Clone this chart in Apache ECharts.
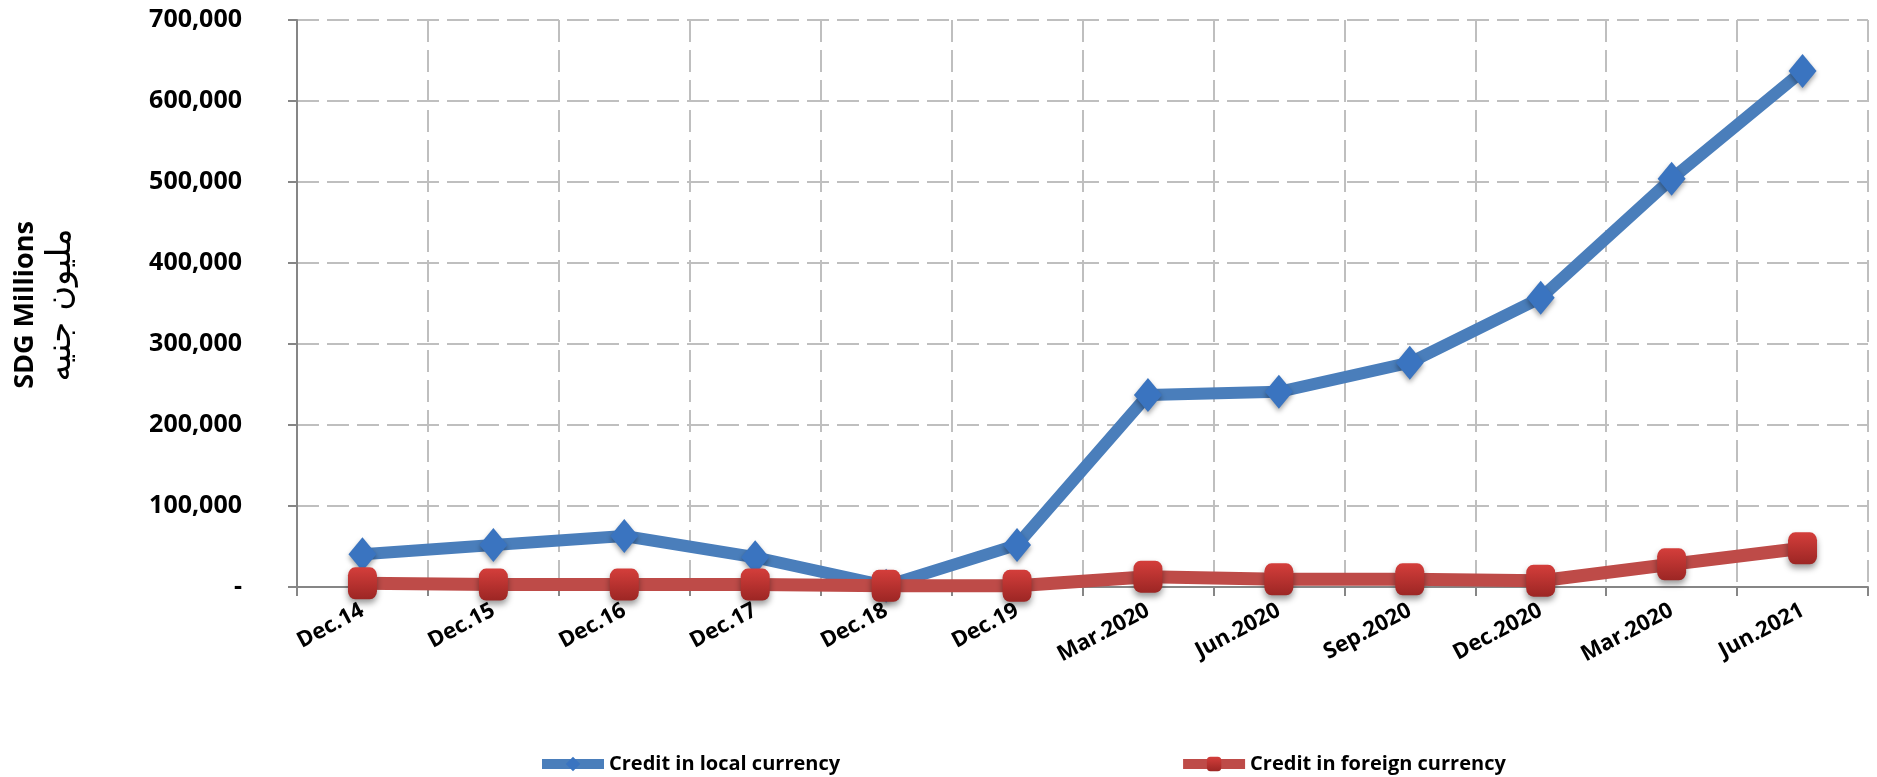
<!DOCTYPE html>
<html>
<head>
<meta charset="utf-8">
<script src="https://cdn.jsdelivr.net/npm/echarts@6/dist/echarts.min.js"></script>
<style>
  html, body { margin: 0; padding: 0; background: #fff; }
  #main { width: 1877px; height: 777px; }
</style>
</head>
<body>
<div id="main"></div>
<script>
// categories (the second Mar.2020 is as printed in the source)
var periods = ['Dec.14', 'Dec.15', 'Dec.16', 'Dec.17', 'Dec.18', 'Dec.19',
    'Mar.2020', 'Jun.2020', 'Sep.2020', 'Dec.2020', 'Mar.2020', 'Jun.2021'];
// SDG millions
var localCredit = [40400, 51900, 63000, 36700, 1500, 52000, 237000, 241000, 277000, 357000, 504000, 637000];
var foreignCredit = [4500, 3000, 3000, 3000, 1500, 1500, 12700, 9500, 9500, 7800, 28000, 47800];
var seriesNames = ['Credit in local currency', 'Credit in foreign currency'];

var chart = echarts.init(document.getElementById('main'));

var gridColor = '#bfbfbf';
var axisColor = '#868686';

var option = {
    backgroundColor: '#fff',
    textStyle: { fontFamily: 'Open Sans' },
    grid: { left: 297, right: 9, top: 20, bottom: 190 },
    legend: {
        left: 532,
        top: 749,
        itemGap: 338,
        itemWidth: 62,
        itemHeight: 18,
        lineStyle: { width: 10 },
        textStyle: { fontFamily: 'Open Sans', fontWeight: 'bold', fontSize: 20, color: '#000' },
        data: seriesNames
    },
    xAxis: {
        type: 'category',
        data: periods,
        boundaryGap: true,
        axisLine: { lineStyle: { color: axisColor, width: 2 } },
        axisTick: { show: true, length: 9, lineStyle: { color: axisColor, width: 2 } },
        axisLabel: {
            interval: 0,
            rotate: 28,
            margin: 22,
            fontSize: 22,
            fontWeight: 'bold',
            color: '#000'
        },
        splitLine: { show: true, lineStyle: { color: gridColor, width: 2, type: [22, 8] } }
    },
    yAxis: {
        type: 'value',
        min: 0,
        max: 700000,
        interval: 100000,
        axisLine: { show: true, lineStyle: { color: axisColor, width: 2 } },
        axisTick: { show: true, length: 9, lineStyle: { color: axisColor, width: 2 } },
        axisLabel: {
            margin: 55,
            fontSize: 25,
            fontWeight: 'bold',
            color: '#000',
            formatter: function (v) {
                return v === 0 ? '-' : v.toLocaleString('en-US');
            }
        },
        splitLine: { show: true, lineStyle: { color: gridColor, width: 2, type: [22, 8] } }
    },
    graphic: [
        {
            type: 'text',
            rotation: Math.PI / 2,
            x: 12, y: 305,
            style: {
                text: 'SDG Millions',
                font: 'bold 27px "Open Sans"',
                fill: '#000',
                align: 'center',
                verticalAlign: 'top'
            }
        },
        {
            type: 'text',
            rotation: Math.PI / 2,
            x: 44, y: 305,
            style: {
                text: 'مليون جنيه',
                font: '34px "DejaVu Sans"',
                fill: '#000',
                align: 'center',
                verticalAlign: 'top'
            }
        }
    ],
    series: [
        {
            name: seriesNames[0],
            type: 'line',
            data: localCredit,
            symbol: 'diamond',
            symbolSize: [28, 34],
            lineStyle: { color: '#4a7ebb', width: 12 },
            itemStyle: {
                color: '#3a74c0',
                shadowBlur: 5,
                shadowColor: 'rgba(0,0,0,0.35)',
                shadowOffsetY: 3
            },
            z: 2
        },
        {
            name: seriesNames[1],
            type: 'line',
            data: foreignCredit,
            symbol: 'roundRect',
            symbolSize: [29, 32],
            lineStyle: { color: '#be4b48', width: 13 },
            itemStyle: {
                color: new echarts.graphic.LinearGradient(0, 0, 0, 1, [
                    { offset: 0, color: '#d43e3b' },
                    { offset: 1, color: '#9c2624' }
                ]),
                shadowBlur: 6,
                shadowColor: 'rgba(0,0,0,0.4)',
                shadowOffsetY: 4
            },
            z: 3
        }
    ]
};

chart.setOption(option);
</script>
</body>
</html>
